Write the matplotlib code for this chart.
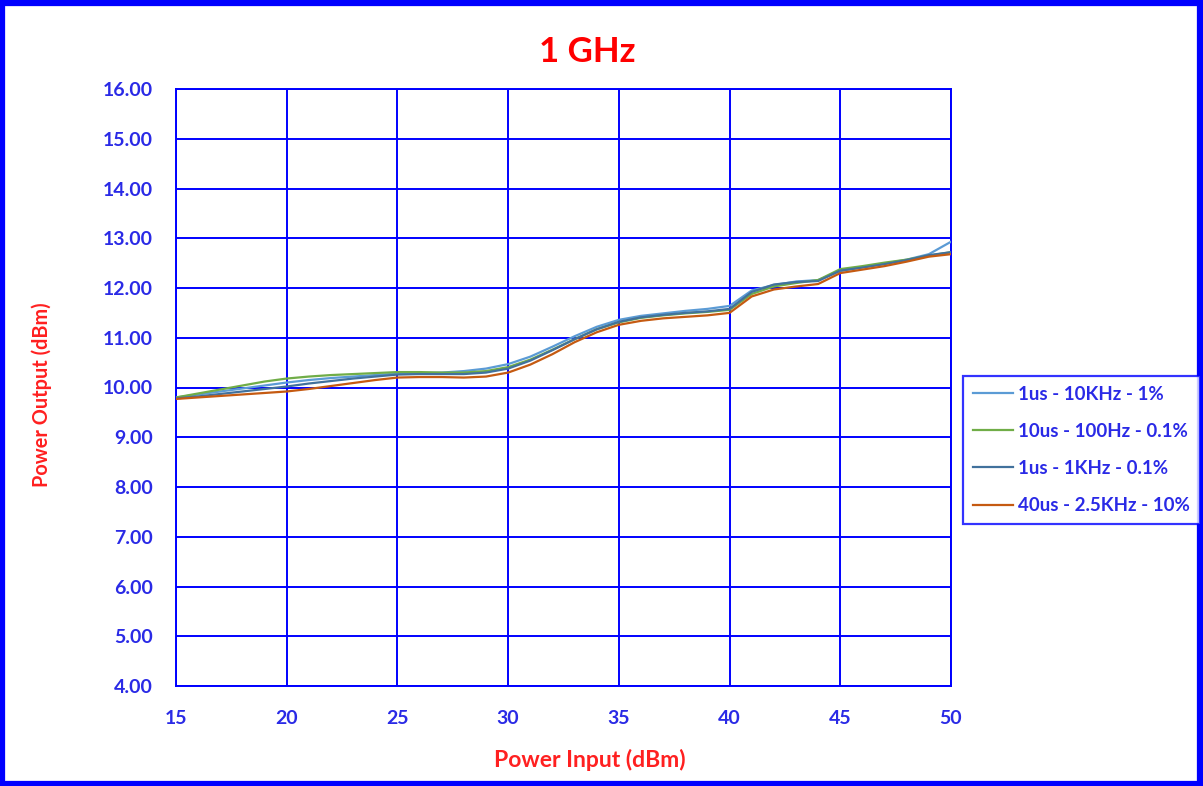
import matplotlib
matplotlib.use("Agg")
import matplotlib.pyplot as plt
from matplotlib.patches import Rectangle

x_in = list(range(15, 51))

s_1us_10k = [9.80, 9.86, 9.92, 9.98, 10.04, 10.10, 10.15, 10.19, 10.22, 10.25, 10.28, 10.29,
             10.30, 10.33, 10.38, 10.47, 10.62, 10.82, 11.03, 11.22, 11.36, 11.44, 11.49, 11.54,
             11.58, 11.64, 11.95, 12.06, 12.13, 12.16, 12.34, 12.42, 12.49, 12.57, 12.68, 12.93]
s_10us_100 = [9.80, 9.88, 9.96, 10.04, 10.12, 10.18, 10.22, 10.25, 10.27, 10.29, 10.31, 10.31,
              10.30, 10.30, 10.33, 10.41, 10.56, 10.76, 10.97, 11.17, 11.31, 11.40, 11.45, 11.49,
              11.52, 11.56, 11.88, 12.03, 12.10, 12.16, 12.38, 12.44, 12.51, 12.57, 12.65, 12.72]
s_1us_1k = [9.78, 9.82, 9.87, 9.92, 9.97, 10.02, 10.08, 10.13, 10.18, 10.22, 10.26, 10.27,
            10.27, 10.27, 10.30, 10.38, 10.54, 10.75, 10.97, 11.17, 11.32, 11.41, 11.46, 11.50,
            11.53, 11.58, 11.92, 12.07, 12.12, 12.14, 12.35, 12.41, 12.48, 12.56, 12.66, 12.72]
s_40us_25k = [9.77, 9.80, 9.83, 9.86, 9.89, 9.92, 9.97, 10.03, 10.09, 10.15, 10.20, 10.21,
              10.21, 10.20, 10.22, 10.30, 10.46, 10.67, 10.91, 11.11, 11.26, 11.34, 11.39, 11.42,
              11.45, 11.50, 11.83, 11.97, 12.03, 12.08, 12.30, 12.37, 12.44, 12.53, 12.63, 12.68]

series_labels = ["1us - 10KHz - 1%", "10us - 100Hz - 0.1%", "1us - 1KHz - 0.1%", "40us - 2.5KHz - 10%"]
series_colors = ["#5B9BD5", "#70AD47", "#41719C", "#C55A11"]

x_ticks = [15, 20, 25, 30, 35, 40, 45, 50]
y_ticks = [4, 5, 6, 7, 8, 9, 10, 11, 12, 13, 14, 15, 16]

title = "1 GHz"
x_label = "Power Input (dBm)"
y_label = "Power Output (dBm)"

plt.rcParams['font.family'] = ['Lato', 'DejaVu Sans']

W, H = 1203, 786
fig = plt.figure(figsize=(W / 100, H / 100), dpi=100)
ax = fig.add_axes([176 / W, 1 - 686 / H, (951 - 176) / W, (686 - 89) / H])

for ys, lab, col in zip([s_1us_10k, s_10us_100, s_1us_1k, s_40us_25k], series_labels, series_colors):
    ax.plot(x_in, ys, color=col, lw=1.6, label=lab, zorder=3)

ax.set_xlim(15, 50)
ax.set_ylim(4, 16)
ax.set_xticks(x_ticks)
ax.set_xticklabels([str(v) for v in x_ticks])
ax.set_yticks(y_ticks)
ax.set_yticklabels([f"{v:.2f}" for v in y_ticks])
ax.grid(True, color="#0000FF", lw=1.4)
ax.set_axisbelow(True)
for sp in ax.spines.values():
    sp.set_color("#0000FF")
    sp.set_linewidth(1.4)
ax.tick_params(length=0, colors="#1F1FE0", labelsize=14)
ax.tick_params(axis='y', pad=16.5)
ax.tick_params(axis='x', pad=17)
for t in ax.get_xticklabels() + ax.get_yticklabels():
    t.set_fontweight('bold')
    t.set_color("#2A2AE6")

fig.text(587 / W, 1 - 52 / H, title, color="#FF0000", fontsize=25, fontweight='bold',
         ha='center', va='center')
fig.text(590 / W, 1 - 760 / H, x_label, color="#FF2020", fontsize=16.5, fontweight='bold',
         ha='center', va='center')
fig.text(42 / W, 1 - 395 / H, y_label, color="#FF2020", fontsize=14.3, fontweight='bold',
         ha='center', va='center', rotation=90)

leg = fig.legend(loc='center left', bbox_to_anchor=(963 / W, 1 - 450 / H),
                 frameon=True, fancybox=False, fontsize=13.5, handlelength=2.1,
                 handletextpad=0.27, labelspacing=1.07, borderpad=0.55, borderaxespad=0)
leg.get_frame().set_edgecolor("#0000FF")
leg.get_frame().set_linewidth(1.6)
for t in leg.get_texts():
    t.set_color("#2A2AE6")
    t.set_fontweight('bold')

fig.patches.append(Rectangle((2 / W, 2 / H), (W - 5) / W, (H - 5) / H, transform=fig.transFigure,
                             fill=False, edgecolor="#0000FF", lw=4.5))

fig.savefig("out.png", dpi=100)
